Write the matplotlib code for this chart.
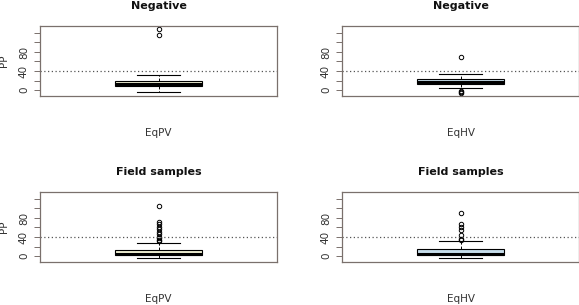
import matplotlib
matplotlib.use("Agg")
import matplotlib.pyplot as plt

# panel info
titles = ["Negative", "Negative", "Field samples", "Field samples"]
xlabels = ["EqPV", "EqHV", "EqPV", "EqHV"]
fills = ["#EEEED2", "#C6DDEA", "#EEEED2", "#C6DDEA"]

# box stats
q1 = [7.8, 12.6, 1.4, 1.4]
med = [12, 16, 5, 5]
q3 = [19, 23.2, 11.8, 14.5]
whislo = [-3.5, 4.9, -4, -4]
whishi = [31.6, 34.3, 28.4, 32.5]
fliers = [
    [116, 129],
    [70, -2, -4, -6],
    [106, 72.5, 68, 61, 57, 50, 46, 41, 37, 34.6, 31],
    [90, 67, 62, 55, 43.5, 36, 33],
]
cutoff = 40
yticks = [0, 20, 40, 60, 80, 100, 120]
ylabels = ["0", "", "40", "", "80", "", ""]

W, H = 579, 305
fig = plt.figure(figsize=(W / 100, H / 100), dpi=100)

# pixel boxes: left, top, right, bottom
boxes = [(40, 26, 277, 96), (342, 26, 579, 96),
         (40, 192, 277, 262), (342, 192, 579, 262)]

frame_col = "#7a706c"
for i in range(4):
    l, t, r, b = boxes[i]
    ax = fig.add_axes([l / W, 1 - b / H, (r - l) / W, (b - t) / H])
    stats = [dict(med=med[i], q1=q1[i], q3=q3[i], whislo=whislo[i],
                  whishi=whishi[i], fliers=fliers[i])]
    ax.bxp(stats, positions=[1], widths=0.4, capwidths=0.2, patch_artist=True,
           boxprops=dict(facecolor=fills[i], edgecolor="black", linewidth=0.8),
           medianprops=dict(color="black", linewidth=2.2),
           whiskerprops=dict(color="black", linestyle=(0, (3, 2)), linewidth=0.7),
           capprops=dict(color="black", linewidth=0.8),
           flierprops=dict(marker="o", markerfacecolor="none",
                           markeredgecolor="black", markersize=3.2,
                           markeredgewidth=0.7))
    ax.axhline(cutoff, color="#555555", linestyle=(0, (1, 2)), linewidth=0.9)
    ax.set_xlim(0.46, 1.54)
    ax.set_ylim(-12.6, 134.7)
    ax.set_xticks([])
    ax.set_yticks(yticks)
    ax.set_yticklabels(ylabels, fontsize=7.5, color="#333333")
    ax.tick_params(axis="y", length=4, width=0.7, color=frame_col, pad=4,
                   labelrotation=90)
    for lab in ax.get_yticklabels():
        lab.set_verticalalignment("center")
    for s in ax.spines.values():
        s.set_color(frame_col)
        s.set_linewidth(0.9)
    ax.set_title(titles[i], fontsize=8, fontweight="bold", pad=12.5,
                 color="#111111")
    ax.set_xlabel(xlabels[i], fontsize=7.5, labelpad=23, color="#333333")
    if i % 2 == 0:
        ax.set_ylabel("PP", fontsize=7.5, labelpad=7, color="#333333")

fig.savefig("out.png", dpi=100)
